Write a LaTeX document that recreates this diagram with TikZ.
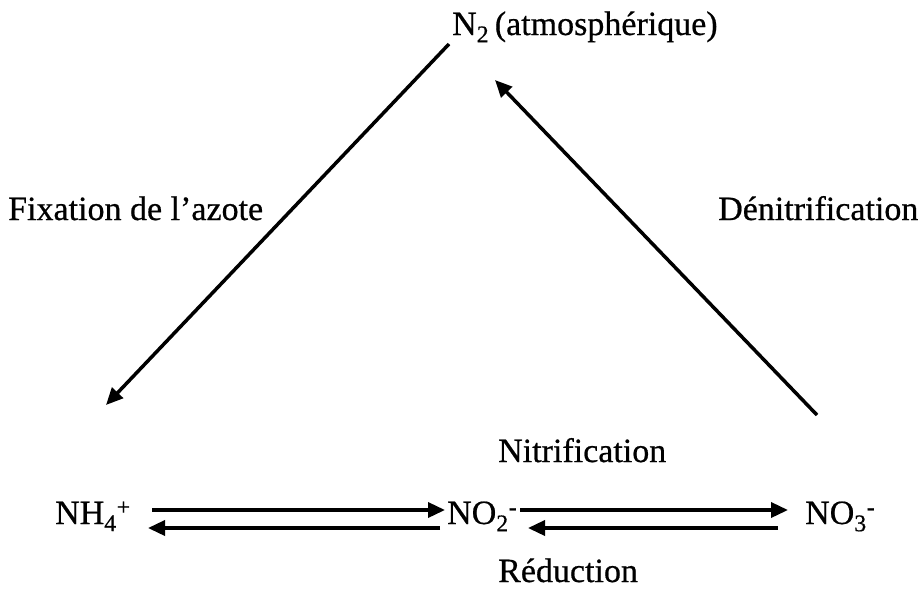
\documentclass[tikz,border=0pt]{standalone}
\usepackage{fontspec}
\setmainfont[FakeBold=0.6]{Liberation Serif}
\usetikzlibrary{arrows.meta}
\begin{document}
\begin{tikzpicture}[x=1pt,y=-1pt,
  lbl/.style={inner sep=0pt,anchor=base west,font=\fontsize{34}{40}\selectfont},
  arr/.style={line width=3.5pt,-{Triangle[length=17pt,width=15pt]}}]
\useasboundingbox[fill=white] (0,0) rectangle (923,590);
\node[lbl] (n2) at (452,35) {N\textsubscript{2}\,(atmosphérique)};
\node[lbl] (fix) at (8,220) {Fixation de l’azote};
\node[lbl] (denit) at (718,220) {Dénitrification};
\node[lbl] (nitr) at (498,462) {Nitrification};
\node[lbl] (nh4) at (55,524) {NH\textsubscript{4}\textsuperscript{+}};
\node[lbl] (no2) at (447,524) {NO\textsubscript{2}\textsuperscript{-}};
\node[lbl] (no3) at (805,524) {NO\textsubscript{3}\textsuperscript{-}};
\node[lbl] (red) at (498,582) {Réduction};
% connector ends
\coordinate (fixs) at (449,44);
\coordinate (fixe) at (106,405);
\coordinate (dens) at (817,415);
\coordinate (dene) at (495,80);
\coordinate (a1s) at (152,510);
\coordinate (a1e) at (445,510);
\coordinate (b1s) at (440,528);
\coordinate (b1e) at (148,528);
\coordinate (a2s) at (520,510);
\coordinate (a2e) at (788,510);
\coordinate (b2s) at (778,528);
\coordinate (b2e) at (528,528);
\draw[arr] (fixs) -- (fixe);
\draw[arr] (dens) -- (dene);
\draw[arr] (a1s) -- (a1e);
\draw[arr] (b1s) -- (b1e);
\draw[arr] (a2s) -- (a2e);
\draw[arr] (b2s) -- (b2e);
\end{tikzpicture}
\end{document}
